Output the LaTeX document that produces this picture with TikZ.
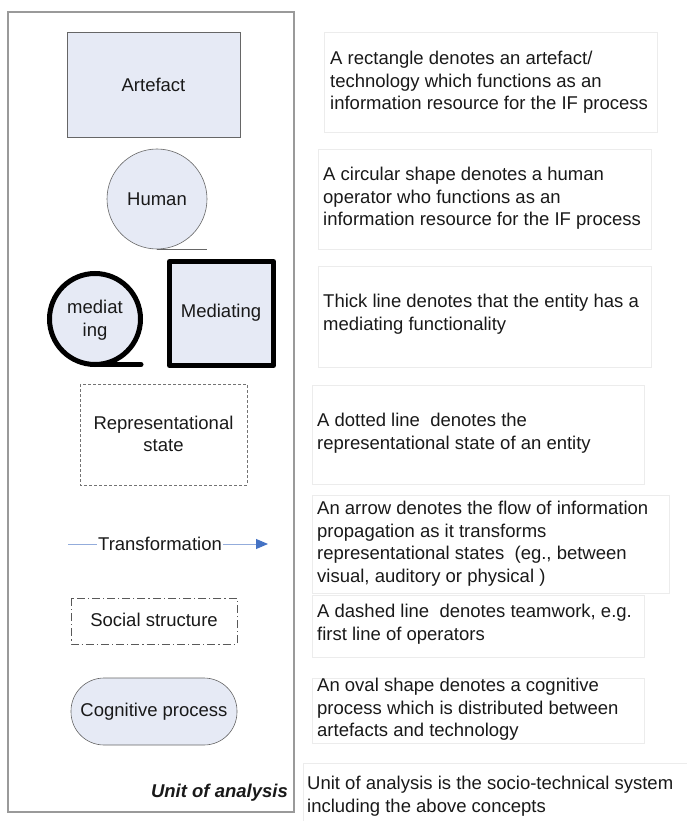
\documentclass[tikz,border=0pt]{standalone}
\usepackage{fontspec}
\setmainfont{Liberation Sans}
\usetikzlibrary{arrows.meta}
\definecolor{boxfill}{HTML}{E6EAF5}
\definecolor{framegray}{HTML}{9A9A9A}
\definecolor{notegray}{HTML}{ECECEC}
\definecolor{flowline}{HTML}{93ACDB}
\definecolor{flowhead}{HTML}{4472C4}
\begin{document}
\begin{tikzpicture}[x=1pt,y=-1pt,
  every node/.style={font=\fontsize{18.5}{22.6}\selectfont, text=black!90},
  entity/.style={draw=black!60, fill=boxfill, line width=0.6pt},
  mediator/.style={draw=black, fill=boxfill, line width=5pt},
  note/.style={draw=notegray, line width=0.8pt},
  notetext/.style={anchor=north west, align=left, inner sep=0pt},
  label/.style={align=center, inner sep=0pt}]
\useasboundingbox (0,0) rectangle (686,821);

% unit of analysis frame
\draw[framegray, line width=1.2pt] (8,12) rectangle (294,812);
\node[anchor=east, inner sep=0pt, font=\fontsize{18.5}{22}\selectfont\bfseries\itshape] (unit) at (288,793) {Unit of analysis};

% artefact
\draw[entity] (67,32) rectangle (240,137);
\node[label] (artefact) at (153.5,84.5) {Artefact};

% human operator
\draw[entity] (157,199) circle (50);
\coordinate (htail) at (207,249);
\node[label] (human) at (157,199) {Human};
\draw[black!60, line width=0.8pt] (157,249) -- (htail);

% mediating entities
\draw[mediator] (95,319) circle (45.5);
\draw[black, line width=5pt, line cap=round] (95,364.5) -- (141,364.5);
\node[label] (medcirc) at (95,320) {mediat\\ing};
\draw[mediator, line join=round] (169.5,261.5) rectangle (273.5,365.5);
\node[label] (medrect) at (221,313) {Mediating};

% representational state
\draw[black!55, line width=0.7pt, dash pattern=on 3pt off 2pt] (80,384) rectangle (247,485);
\node[label] (repr) at (163.5,434) {Representational\\state};

% transformation arrow
\coordinate (tfrom) at (68,544);
\coordinate (tto) at (268,544);
\node[label, fill=white, inner xsep=1pt, inner ysep=3pt] (trans) at (160,544) {Transformation};
\draw[flowline, line width=0.9pt] (tfrom) -- (trans.west);
\draw[flowline, line width=0.9pt, -{Triangle[length=12pt, width=10pt, color=flowhead, fill=flowhead]}] (trans.east) -- (tto);

% social structure
\draw[black!65, line width=0.8pt, dash pattern=on 8pt off 3pt on 1.2pt off 3pt] (71,598) rectangle (237,644);
\node[label] (social) at (154,620) {Social structure};

% cognitive process
\draw[entity, rounded corners=33pt] (71,678) rectangle (237,745);
\node[label] (cog) at (154,711.5) {Cognitive process};

% explanatory notes
\draw[note] (324,32) rectangle (657,132);
\node[notetext] (n1) at (330,51) {A rectangle denotes an artefact/\\technology which functions as an\\information resource for the IF process};

\draw[note] (318,149) rectangle (651,249);
\node[notetext] (n2) at (323,167) {A circular shape denotes a human\\operator who functions as an\\information resource for the IF process};

\draw[note] (318,266) rectangle (651,367);
\node[notetext] (n3) at (323,294) {Thick line denotes that the entity has a\\mediating functionality};

\draw[note] (312,385) rectangle (644,484);
\node[notetext] (n4) at (317,413) {A dotted line\ \ denotes the\\representational state of an entity};

\draw[note] (312,495) rectangle (669,593);
\node[notetext] (n5) at (317,501) {An arrow denotes the flow of information\\propagation as it transforms\\representational states\ \ (eg., between\\visual, auditory or physical )};

\draw[note] (312,595) rectangle (644,657);
\node[notetext] (n6) at (317,604) {A dashed line\ \ denotes teamwork, e.g.\\first line of operators};

\draw[note] (312,678) rectangle (644,743);
\node[notetext] (n7) at (317,678) {An oval shape denotes a cognitive\\process which is distributed between\\artefacts and technology};

\draw[note] (303,763) rectangle (690,830);
\node[notetext] (n8) at (307,776) {Unit of analysis is the socio-technical system\\including the above concepts};
\end{tikzpicture}
\end{document}
